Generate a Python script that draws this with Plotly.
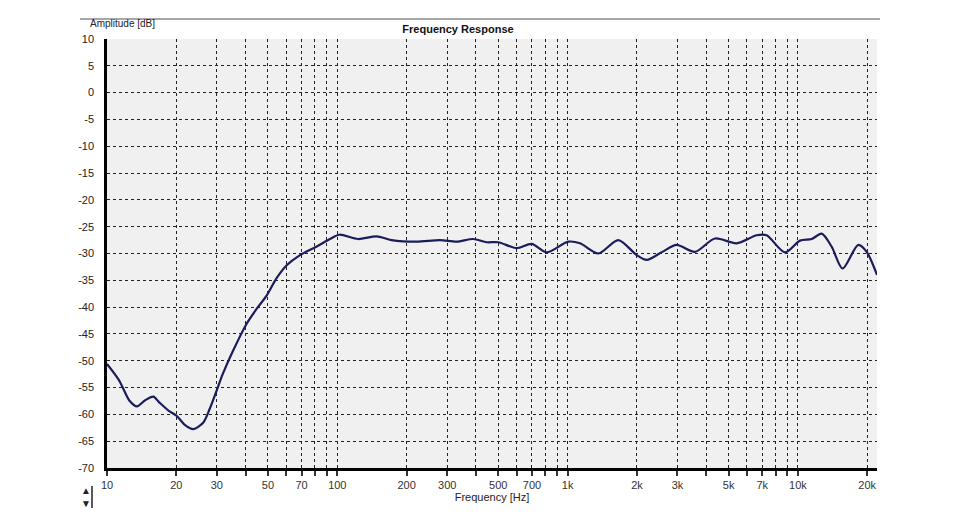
import plotly.graph_objects as go

freq_hz = [10, 11.3, 12.5, 13.5, 14.6, 15.9, 16.9, 18.5, 20.1, 21.7, 23.7, 26.2, 27.9,
           29.9, 31.8, 35.3, 40.4, 44.7, 49.4, 54.5, 60.3, 68.9, 81.4, 93, 102, 123,
           148, 172, 221, 279, 330, 389, 445, 500, 601, 698, 811, 1007, 1132, 1360,
           1660, 1995, 2205, 2576, 2974, 3570, 4364, 5418, 6620, 7313, 8786, 10210,
           11480, 12680, 14000, 15630, 18280, 19890, 22050]
amp_db = [-50.6, -53.7, -57.4, -58.5, -57.4, -56.7, -57.8, -59.3, -60.3, -61.9, -62.75,
          -61.5, -59.0, -55.6, -52.5, -48.1, -43.1, -40.3, -37.8, -34.6, -32.2, -30.3,
          -28.7, -27.3, -26.5, -27.3, -26.8, -27.5, -27.8, -27.5, -27.8, -27.3, -27.9,
          -27.9, -29.0, -28.2, -29.8, -27.8, -28.1, -30.0, -27.5, -30.3, -31.2, -29.7,
          -28.4, -29.7, -27.2, -28.1, -26.6, -26.6, -29.8, -27.6, -27.3, -26.3, -28.7,
          -32.8, -28.4, -29.7, -34.0]

# Axis grid / labels
x_grid = [20, 30, 40, 50, 60, 70, 80, 90, 100, 200, 300, 400, 500, 600, 700, 800, 900,
          1000, 2000, 3000, 4000, 5000, 6000, 7000, 8000, 9000, 10000, 20000]
x_labels = {10: "10", 20: "20", 30: "30", 50: "50", 70: "70", 100: "100", 200: "200",
            300: "300", 500: "500", 700: "700", 1000: "1k", 2000: "2k", 3000: "3k",
            5000: "5k", 7000: "7k", 10000: "10k", 20000: "20k"}
y_ticks = list(range(-70, 11, 5))

x_tickvals = [10] + x_grid
x_ticktext = [x_labels.get(v, "") for v in x_tickvals]

font = "Liberation Sans, Arial, sans-serif"

fig = go.Figure()
fig.add_trace(go.Scatter(
    x=freq_hz, y=amp_db,
    mode="lines",
    line=dict(color="#1c1c5c", width=2.2, shape="spline", smoothing=0.8),
    hoverinfo="x+y",
))

# page body adds an 8px offset, so margins are shifted to compensate
fig.update_layout(
    width=960, height=525,
    margin=dict(l=99, r=91, t=31, b=65, autoexpand=False),
    paper_bgcolor="white",
    plot_bgcolor="#f0f0f0",
    showlegend=False,
    font=dict(family=font, size=11, color="#222"),
    title=dict(text="<b>Frequency Response</b>", x=450 / 960, xanchor="center",
               y=1 - 21 / 525, yanchor="middle",
               font=dict(family=font, size=11, color="#111")),
)

fig.update_xaxes(
    type="log",
    range=[1, 4.3434],
    tickvals=x_tickvals, ticktext=x_ticktext,
    showgrid=True, gridcolor="#222", gridwidth=1, griddash="dot",
    showline=True, linecolor="black", linewidth=2.5,
    ticks="outside", ticklen=5, tickcolor="#333", tickwidth=1.5,
    tickfont=dict(size=11, color="#333"),
    zeroline=False, automargin=False,
    title=dict(text="Frequency [Hz]", standoff=2, font=dict(size=11, color="#222")),
)

fig.update_yaxes(
    range=[-70, 10],
    tickvals=y_ticks, ticktext=[str(v) for v in y_ticks],
    showgrid=True, gridcolor="#222", gridwidth=1, griddash="dot",
    showline=True, linecolor="black", linewidth=2.5,
    ticks="outside", ticklen=8, tickcolor="rgba(0,0,0,0)",
    tickfont=dict(size=11, color="#222"),
    zeroline=False, automargin=False,
)

# y-axis caption, top rule and little scroll glyph
fig.add_annotation(text="Amplitude [dB]", xref="paper", yref="paper",
                   x=(88 - 107) / 770, y=(468 - 24) / 429, xanchor="left", yanchor="middle",
                   showarrow=False, font=dict(size=10, color="#222"))
fig.add_shape(type="line", xref="paper", yref="paper",
              x0=(80 - 107) / 770, x1=(880 - 107) / 770,
              y0=(468 - 19) / 429, y1=(468 - 19) / 429,
              line=dict(color="#8a8a8a", width=1.5))
fig.add_annotation(text="▲<br>▼", xref="paper", yref="paper",
                   x=(86 - 107) / 770, y=(468 - 497) / 429, xanchor="center", yanchor="middle",
                   showarrow=False, font=dict(size=10, color="#222"))
fig.add_shape(type="line", xref="paper", yref="paper",
              x0=(92 - 107) / 770, x1=(92 - 107) / 770,
              y0=(468 - 486) / 429, y1=(468 - 508) / 429,
              line=dict(color="#222", width=1.5))

fig.write_html("out.html")
